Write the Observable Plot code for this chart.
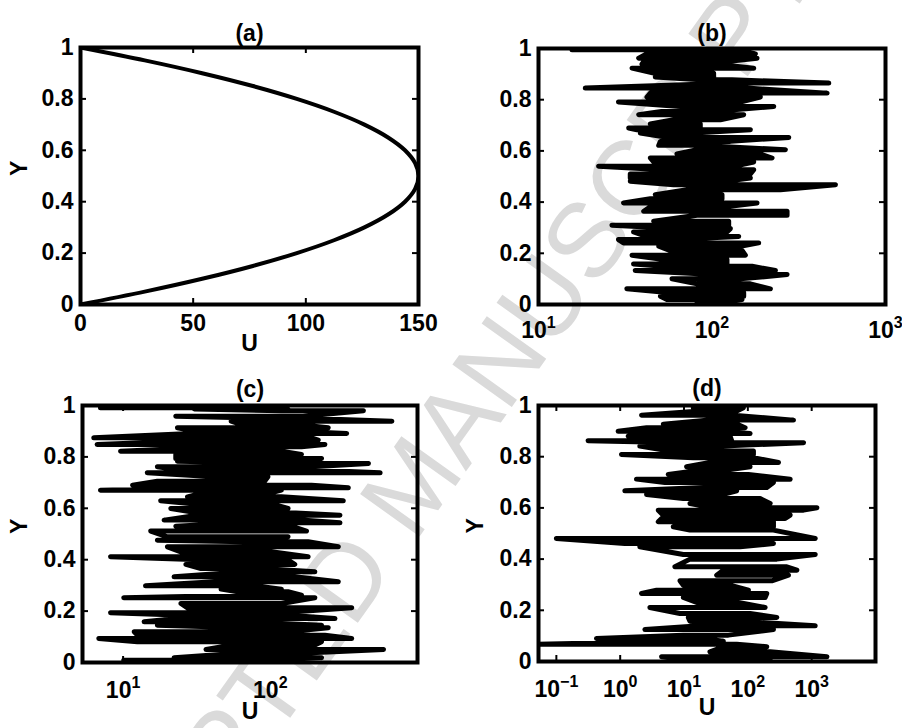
<!DOCTYPE html>
<html><head><meta charset="utf-8">
<script src="https://cdn.jsdelivr.net/npm/d3@7"></script>
<script src="https://cdn.jsdelivr.net/npm/@observablehq/plot@0.6"></script>
<style>
body{margin:0;background:#fff;}
#wrap{position:relative;width:902px;height:728px;overflow:hidden;background:#fff;}
#wm{position:absolute;left:412px;top:484px;transform:translate(-50%,-50%) rotate(-54.5deg);font:106px "Liberation Sans",Arial,sans-serif;color:#dadada;white-space:nowrap;}
</style></head><body>
<div id="wrap"><div id="wm">ACCEPTED MANUSCRIPT</div></div>
<script>
// ---------- data ----------
const yTicks = [0, 0.2, 0.4, 0.6, 0.8, 1];
const titles = ["(a)", "(b)", "(c)", "(d)"];
const xLabel = "U", yLabel = "Y";

// (a) parabolic profile
const yA = [0,0.05,0.1,0.15,0.2,0.25,0.3,0.35,0.4,0.45,0.5,0.55,0.6,0.65,0.7,0.75,0.8,0.85,0.9,0.95,1];
const uA = [0,28.5,54,76.5,96,112.5,126,136.5,144,148.5,150,148.5,144,136.5,126,112.5,96,76.5,54,28.5,0];
const xTicksA = [0, 50, 100, 150];

// (b) noisy profile: y level, lower U and upper U of each horizontal excursion
const yB = [0.9948,0.9792,0.9623,0.9493,0.9389,0.9233,0.9038,0.8882,0.8778,0.8648,0.8453,0.8257,0.8101,0.7906,0.7737,0.7607,0.7412,0.7217,0.7048,0.6892,0.6827,0.6697,0.6528,0.6372,0.6216,0.6047,0.5878,0.5722,0.5566,0.5397,0.5267,0.5098,
0.4941,0.4811,0.4681,0.4486,0.4291,0.4135,0.3966,0.3810,0.3641,0.3485,0.3251,0.3095,0.2965,0.2835,0.2653,0.2536,0.2406,0.2276,0.2107,0.1925,0.1756,0.1586,0.1495,0.1326,0.1170,0.1001,0.0806,0.0611,0.0455,0.0325,0.0195,0.0091];
const lowB = [15.6,42.2,37.8,40.4,39.5,34.6,46.1,47.1,85.6,139.4,18.6,44.1,42.2,28.9,65.7,60.1,37.8,60.1,44.1,33.1,36.9,38.6,55.0,50.4,49.3,82.0,62.8,44.1,46.1,22.2,52.6,33.8,
33.8,33.8,60.1,71.8,47.1,44.1,30.9,44.1,40.4,82.0,46.1,26.5,62.8,35.3,42.2,28.9,30.9,49.3,57.5,34.6,52.6,35.3,52.6,36.1,102.2,58.8,82.0,32.3,57.5,50.4,55.0,82.0];
const highB = [145.7,177.8,181.8,122.0,106.9,174.0,102.2,102.2,130.4,471.2,159.2,460.9,190.0,145.7,226.9,133.4,152.3,111.7,85.6,85.6,166.4,78.4,276.9,127.6,82.0,264.9,190.0,221.9,174.0,133.4,174.0,166.4,
166.4,119.4,514.6,247.9,114.2,114.2,181.8,116.8,270.8,270.8,124.8,124.8,127.6,122.0,142.5,60.1,185.8,145.7,149.0,155.7,122.0,122.0,170.2,232.0,270.8,145.7,166.4,217.0,152.3,152.3,149.0,122.0];
const xTicksB = [10, 100, 1000];

// (c)
const yC = [0.9911,0.9859,0.9794,0.9586,0.9496,0.9392,0.9301,0.9132,0.9003,0.8912,0.8743,0.8652,0.8484,0.8393,0.8224,0.8095,0.7939,0.7835,0.7744,0.7615,0.7511,0.7381,0.7226,0.7057,0.6901,0.6798,0.6707,0.6577,0.6447,0.6292,0.6123,0.5994,0.5864,0.5734,0.5540,0.5436,0.5306,0.5112,
0.4891,0.4761,0.4697,0.4502,0.4307,0.4113,0.3983,0.3815,0.3659,0.3529,0.3335,0.3140,0.2985,0.2855,0.2751,0.2620,0.2517,0.2297,0.2128,0.1934,0.1843,0.1713,0.1584,0.1454,0.1350,0.1194,0.1065,0.0935,0.0806,0.0676,0.0507,0.0352,0.0183,0.0092];
const lowC = [7.02,30.5,118.9,22.8,112.8,54.2,60.2,23.4,30.5,28.9,6.32,37.6,6.66,46.3,9.61,22.8,22.8,23.4,146.6,17.1,23.4,14.6,41.7,17.1,11.6,46.3,7.02,33.8,27.4,18.0,37.6,21.1,28.9,32.1,19.0,63.4,22.8,15.4,
20.0,17.1,66.8,20.0,24.7,8.22,41.7,26.7,33.8,66.8,22.2,41.7,14.2,46.3,60.2,70.4,10.1,24.7,27.4,8.22,26.0,23.4,13.9,17.1,66.8,11.9,12.5,6.84,12.5,54.2,36.6,57.1,22.2,10.1];
const highC = [63.4,132.0,429.0,167.1,190.5,669.9,132.0,247.5,146.6,330.2,190.5,211.6,234.9,162.8,118.9,162.8,222.9,118.9,464.2,190.5,154.5,557.5,96.4,91.5,190.5,338.9,118.9,96.4,118.9,313.3,109.9,132.0,101.6,297.4,171.5,297.4,139.1,176.1,
132.0,74.2,180.7,289.7,101.6,180.7,132.0,146.6,86.8,200.8,146.6,289.7,78.2,118.9,132.0,162.8,200.8,118.9,357.2,118.9,132.0,274.9,63.4,222.9,247.5,132.0,234.9,357.2,222.9,200.8,587.5,146.6,222.9,91.5];
const xTicksC = [10, 100];

// (d)
const yD = [0.991,0.978,0.9624,0.9429,0.9272,0.9129,0.8999,0.8907,0.8803,0.8621,0.8543,0.8413,0.8218,0.8088,0.7957,0.7775,0.7606,0.7476,0.7306,0.7124,0.6994,0.6798,0.6668,0.6525,0.6368,0.6173,0.6004,0.5913,0.5718,0.5587,0.5457,0.5262,0.5132,
0.4806,0.461,0.448,0.4181,0.3999,0.3699,0.3569,0.3374,0.3152,0.2983,0.2788,0.2658,0.2501,0.2306,0.2111,0.1876,0.172,0.1577,0.1395,0.1251,0.103,0.09,0.0796,0.0678,0.0574,0.0379,0.0184,0.0079];
const lowD = [13.98,15.77,2.16,22.63,4.73,2.59,0.929,2.59,1.334,0.314,9.74,2.03,6.01,1.048,13.98,25.5,10.98,17.79,5.66,1.80,5.02,20.07,1.182,2.59,9.74,12.39,28.8,3.95,4.73,4.45,3.95,6.78,12.39,
0.1,1.182,2.03,9.74,12.39,7.21,41.3,32.5,8.64,9.74,3.72,2.16,9.74,15.77,2.92,8.64,11.67,12.39,17.79,2.44,9.74,0.425,12.39,0.05,41.3,25.5,4.45,9.74];
const highD = [85.2,67.0,59.4,519.2,67.0,90.5,32.5,108.4,52.6,55.9,745.3,32.5,122.3,122.3,122.3,301.9,108.4,46.7,102.1,460.3,252.0,198.1,67.0,41.3,155.6,223.4,1207,745.3,460.3,384.2,252.0,252.0,252.0,
1136.5,252.0,75.5,1136.5,284.3,408.1,585.7,433.5,237.3,52.6,102.1,198.1,186.5,71.1,186.5,108.4,284.3,67.0,1136.5,252.0,49.5,20.07,41.3,67.0,198.1,223.4,1733,223.4];
const xTicksD = [0.1, 1, 10, 100, 1000];

// ---------- helpers ----------
function zig(ys, lo, hi) {
  const pts = [];
  ys.forEach((y, i) => {
    if (i % 2 === 0) pts.push({u: lo[i], y}, {u: hi[i], y});
    else pts.push({u: hi[i], y}, {u: lo[i], y});
  });
  return pts;
}
const profA = yA.map((y, i) => ({u: uA[i], y}));
const yFmt = d => d === 0 ? "0" : d === 1 ? "1" : d.toFixed(1);
const expFmt = d => { const e = Math.round(Math.log10(d)); return "10^" + (e < 0 ? "\u2212" + (-e) : e); };

const W = 451, H = 364, FS = 23;
const FONT = '"Liberation Sans", Arial, sans-serif';
const wrap = document.getElementById("wrap");
const txt = {fontSize: FS, fontWeight: "bold", fontFamily: FONT, fill: "#000"};

function panel(c) {
  const fw = W - c.mL - c.mR, fh = H - c.mT - c.mB;
  const marks = [
    Plot.line(c.data, {x: "u", y: "y", stroke: "#000", strokeWidth: c.sw || 5, strokeLinecap: "round", strokeLinejoin: "round", curve: c.curve || "linear", clip: true}),
    Plot.tickX(c.xTicks, {x: d => d, insetTop: fh - 6, stroke: "#000", strokeWidth: 2}),
    Plot.tickX(c.xTicks, {x: d => d, insetBottom: fh - 6, stroke: "#000", strokeWidth: 2}),
    Plot.tickY(yTicks, {y: d => d, insetRight: fw - 6, stroke: "#000", strokeWidth: 2}),
    Plot.tickY(yTicks, {y: d => d, insetLeft: fw - 6, stroke: "#000", strokeWidth: 2}),
    Plot.frame({stroke: "#000", strokeWidth: 4}),
    Plot.axisX({ticks: c.xTicks, tickSize: 0, tickPadding: c.pad, tickFormat: c.xFmt, label: null, ...txt}),
    Plot.axisY({ticks: yTicks, tickSize: 0, tickPadding: 7, tickFormat: yFmt, label: null, ...txt}),
    Plot.text([c.title], {text: d => d, frameAnchor: "top", dy: c.titleDy, ...txt})
  ];
  if (c.uDy != null) marks.push(Plot.text([xLabel], {text: d => d, frameAnchor: "bottom", dy: c.uDy, ...txt}));
  if (c.yDx != null) marks.push(Plot.text([yLabel], {text: d => d, frameAnchor: "left", dx: c.yDx, rotate: -90, ...txt}));
  const svg = Plot.plot({
    width: W, height: H,
    marginLeft: c.mL, marginRight: c.mR, marginTop: c.mT, marginBottom: c.mB,
    x: {...c.x, axis: null},
    y: {domain: [0, 1], axis: null},
    style: {fontFamily: FONT, fontSize: FS + "px", fontWeight: "bold", background: "transparent", overflow: "visible", color: "#000"},
    marks
  });
  svg.querySelectorAll("text").forEach(t => {
    const m = /^10\^(\u2212?\d+)$/.exec(t.textContent);
    if (m) {
      t.textContent = "10";
      const ts = document.createElementNS("http://www.w3.org/2000/svg", "tspan");
      ts.setAttribute("dy", "-10");
      ts.setAttribute("font-size", "16");
      ts.textContent = m[1];
      t.appendChild(ts);
    }
  });
  svg.style.position = "absolute";
  svg.style.left = c.left + "px";
  svg.style.top = c.top + "px";
  wrap.appendChild(svg);
}

panel({left: 0, top: 0, mL: 80, mR: 33, mT: 47, mB: 60, x: {domain: [0, 150]}, xTicks: xTicksA, pad: 10, xFmt: d => String(d),
  data: profA, curve: "catmull-rom", sw: 4, title: titles[0], titleDy: -23, uDy: 46, yDx: -61});
panel({left: 451, top: 0, mL: 87, mR: 17, mT: 48, mB: 60, x: {type: "log", domain: [10, 1000]}, xTicks: xTicksB, pad: 17, xFmt: expFmt,
  data: zig(yB, lowB, highB), title: titles[1], titleDy: -24});
panel({left: 0, top: 364, mL: 82, mR: 34, mT: 41, mB: 66, x: {type: "log", domain: [5.3, 1000]}, xTicks: xTicksC, pad: 19, xFmt: expFmt,
  data: zig(yC, lowC, highC), title: titles[2], titleDy: -25, uDy: 56, yDx: -63});
panel({left: 451, top: 364, mL: 87, mR: 27, mT: 41, mB: 67, x: {type: "log", domain: [0.0525, 10000]}, xTicks: xTicksD, pad: 19, xFmt: expFmt,
  data: zig(yD, lowD, highD), title: titles[3], titleDy: -26, uDy: 53, yDx: -63});
</script>
</body></html>
